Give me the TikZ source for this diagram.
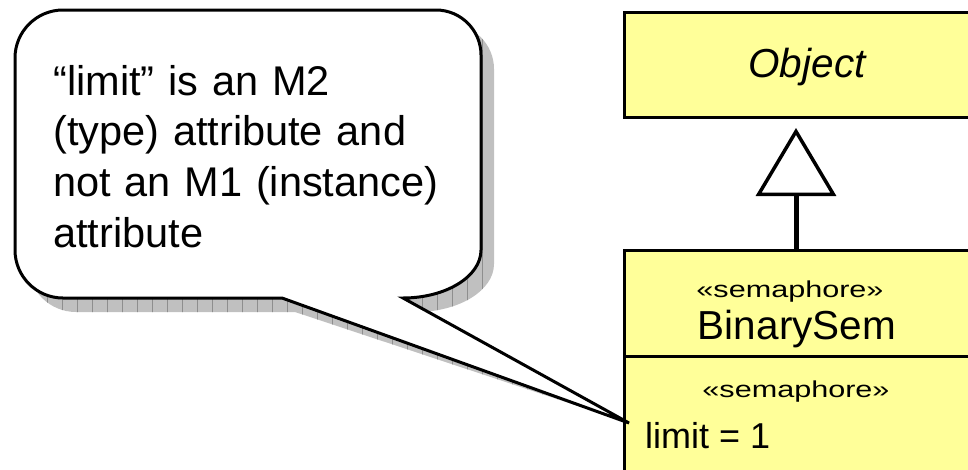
\documentclass[tikz,border=0pt]{standalone}
\usepackage{fontspec}
\setmainfont{Liberation Sans}
\newfontfamily\stereofont[FakeStretch=1.33]{Liberation Sans}
\usetikzlibrary{arrows.meta}
\definecolor{umlyellow}{HTML}{FFFF99}
\definecolor{shadowgray}{HTML}{C0C0C0}
\definecolor{gridgray}{HTML}{8E8E8E}
\begin{document}
\begin{tikzpicture}[x=1pt,y=-1pt,
  classbox/.style={draw=black, line width=3pt, fill=umlyellow, inner sep=0pt, anchor=north west, minimum width=372pt},
  txt/.style={inner sep=0pt, anchor=base},
  gen/.style={line width=5pt, -{Triangle[fill=white, length=68pt, width=80pt, line width=3.5pt]}, shorten >=9pt},
  calloutshape/.style={insert path={(15,58) .. controls (15,31.5) and (36.5,10) .. (63,10)
     -- (436,10) .. controls (460.8,10) and (481,30.2) .. (481,55)
     -- (481,250) .. controls (481,276.5) and (446,298) .. (403,298)
     -- (tip) -- (282,298)
     -- (63,298) .. controls (36.5,298) and (15,276.5) .. (15,250) -- cycle}}
]
\clip (0,0) rectangle (968,469);
\coordinate (tip) at (629,423);
\coordinate (stemx) at (796,0);

% class boxes
\node[classbox, minimum height=105pt] (obj) at (623,11) {};
\node[classbox, minimum height=106pt] (head) at (623,249) {};
\node[classbox, minimum height=140pt] (attrs) at (623,355) {};

\node[txt, font=\fontsize{40.5}{48}\selectfont\itshape] (objname) at (807,77) {Object};
\node[txt, font=\fontsize{23}{28}\selectfont\stereofont] (st1) at (790,297) {«semaphore»};
\node[txt, font=\fontsize{40.5}{48}\selectfont] (bsname) at (797,339) {BinarySem};
\node[txt, font=\fontsize{23}{28}\selectfont\stereofont] (st2) at (796,397) {«semaphore»};
\node[inner sep=0pt, anchor=base west, font=\fontsize{36}{43}\selectfont] (limit) at (645,448) {limit = 1};

% generalization
\draw[gen] (head.north -| stemx) -- (obj.south -| stemx);

% callout shadow
\begin{scope}
  \clip[shift={(13,14)}, calloutshape];
  \fill[shadowgray] (0,0) rectangle (968,469);
  \draw[gridgray, line width=0.7pt, step=15, shift={(2,3)}] (-15,-15) grid (705,480);
\end{scope}

% callout
\draw[line width=3pt, fill=white, calloutshape];
\node[inner sep=0pt, anchor=base west, text width=450pt, align=left,
      font=\fontsize{41.5}{50.7}\selectfont] (note) at (53,95)
  {“limit” is an M2\\(type) attribute and\\not an M1 (instance)\\attribute};
\end{tikzpicture}
\end{document}
